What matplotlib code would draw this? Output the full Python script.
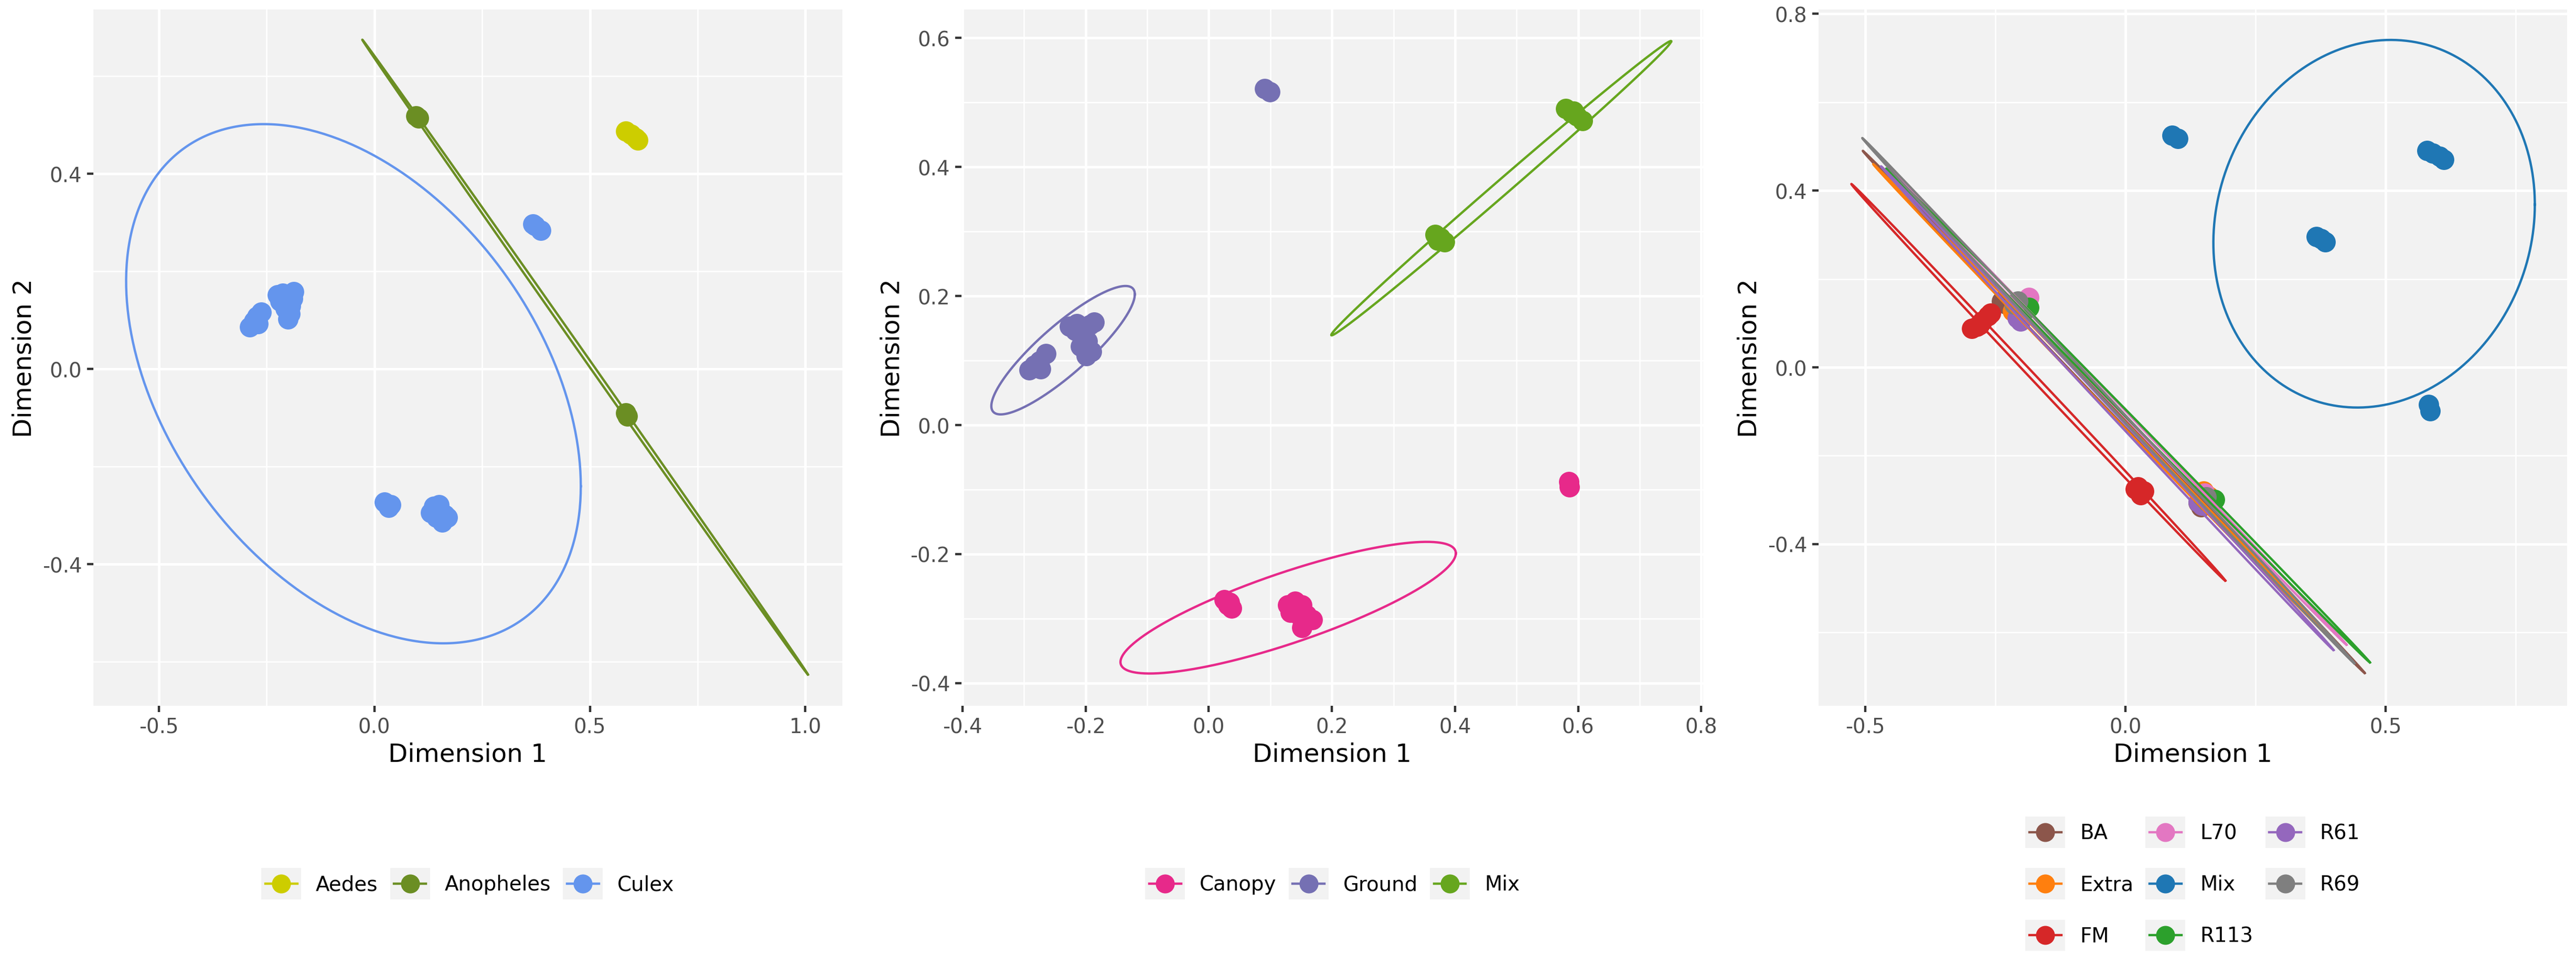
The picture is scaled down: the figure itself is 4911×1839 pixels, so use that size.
"""
Three MDS panels (genus / habitat / site) with 95% ellipses, ggplot-grey look.
"""

import numpy as np
import matplotlib
matplotlib.use("Agg")
import matplotlib.pyplot as plt
from matplotlib.lines import Line2D
from matplotlib.patches import Rectangle
from matplotlib.legend_handler import HandlerBase
from matplotlib.ticker import MultipleLocator, FuncFormatter

# ── 1. Data ───────────────────────────────────────────────────────────────
# Panel 1: genus
GENUS = ["Aedes", "Anopheles", "Culex"]
GENUS_COLORS = ["#CDCD00", "#6B8E23", "#6495ED"]
aedes_x = [0.583, 0.596, 0.606, 0.611]
aedes_y = [0.488, 0.481, 0.474, 0.469]
anoph_x = [0.096, 0.102, 0.583, 0.587]
anoph_y = [0.519, 0.514, -0.090, -0.096]
culex_x = [-0.289, -0.280, -0.272, -0.262, -0.270,
           -0.225, -0.213, -0.200, -0.187, -0.219, -0.206, -0.194, -0.196,
           -0.200, -0.206, -0.190,
           0.373, 0.386, 0.368,
           0.023, 0.033, 0.038,
           0.138, 0.150, 0.163, 0.157, 0.144, 0.169, 0.150, 0.131]
culex_y = [0.086, 0.098, 0.108, 0.116, 0.093,
           0.152, 0.155, 0.150, 0.158, 0.139, 0.134, 0.129, 0.113,
           0.103, 0.124, 0.144,
           0.294, 0.284, 0.297,
           -0.273, -0.284, -0.278,
           -0.281, -0.289, -0.299, -0.314, -0.304, -0.304, -0.278, -0.294]
# ellipse: centre x, centre y, half-width x, half-height y, correlation
aedes_ell = None
anoph_ell = [0.489, 0.0245, 0.517, 0.6505, -0.99994]
culex_ell = [-0.0485, -0.030, 0.5275, 0.532, -0.395]

# Panel 2: habitat
HABITAT = ["Canopy", "Ground", "Mix"]
HABITAT_COLORS = ["#E7298A", "#7570B3", "#66A61E"]
canopy_x = [0.585, 0.586,
            0.025, 0.031, 0.037, 0.034,
            0.128, 0.140, 0.151, 0.146, 0.155, 0.159, 0.168, 0.151, 0.142, 0.133]
canopy_y = [-0.088, -0.096,
            -0.271, -0.279, -0.284, -0.275,
            -0.279, -0.273, -0.279, -0.294, -0.306, -0.294, -0.302, -0.314, -0.286, -0.290]
ground_x = [0.091, 0.099,
            -0.292, -0.283, -0.275, -0.264, -0.273,
            -0.226, -0.214, -0.204, -0.193, -0.186, -0.206, -0.197, -0.195,
            -0.199, -0.190, -0.217, -0.208]
ground_y = [0.521, 0.516,
            0.085, 0.093, 0.099, 0.111, 0.087,
            0.153, 0.157, 0.149, 0.155, 0.159, 0.138, 0.130, 0.118,
            0.107, 0.114, 0.146, 0.122]
hmix_x = [0.580, 0.589, 0.598, 0.607, 0.593,
          0.368, 0.376, 0.383, 0.372]
hmix_y = [0.490, 0.484, 0.479, 0.472, 0.486,
          0.295, 0.290, 0.284, 0.286]
canopy_ell = [0.129, -0.283, 0.2723, 0.102, 0.826]
ground_ell = [-0.2365, 0.116, 0.1165, 0.0995, 0.87]
hmix_ell = [0.475, 0.367, 0.276, 0.228, 0.9978]

# Panel 3: site
SITE = ["BA", "Extra", "FM", "L70", "Mix", "R113", "R61", "R69"]
SITE_COLORS = ["#8C564B", "#FF7F0E", "#D62728", "#E377C2",
               "#1F77B4", "#2CA02C", "#9467BD", "#7F7F7F"]
ba_x = [-0.238, -0.231, 0.145, 0.140]
ba_y = [0.150, 0.144, -0.316, -0.306]
extra_x = [-0.217, -0.210, 0.150, 0.160]
extra_y = [0.127, 0.120, -0.280, -0.292]
fm_x = [-0.296, -0.285, -0.275, -0.264, -0.259, -0.280,
        0.024, 0.035, 0.029, 0.019]
fm_y = [0.088, 0.093, 0.105, 0.116, 0.122, 0.096,
        -0.271, -0.280, -0.288, -0.276]
l70_x = [-0.186, -0.192, 0.152, 0.160]
l70_y = [0.158, 0.148, -0.285, -0.296]
smix_x = [0.090, 0.101,
          0.580, 0.591, 0.604, 0.612,
          0.367, 0.376, 0.384,
          0.583, 0.586]
smix_y = [0.525, 0.518,
          0.491, 0.485, 0.477, 0.470,
          0.296, 0.291, 0.284,
          -0.084, -0.098]
r113_x = [-0.186, -0.195, 0.171, 0.165]
r113_y = [0.136, 0.128, -0.299, -0.305]
r61_x = [-0.202, -0.208, 0.140, 0.147]
r61_y = [0.105, 0.112, -0.305, -0.312]
r69_x = [-0.207, -0.214, 0.155, 0.150]
r69_y = [0.150, 0.142, -0.293, -0.300]
ba_ell = [-0.0225, -0.101, 0.4825, 0.591, -0.9999]
extra_ell = [-0.0425, -0.080, 0.4425, 0.540, -0.9999]
fm_ell = [-0.1675, -0.034, 0.3595, 0.449, -0.9998]
l70_ell = [-0.015, -0.088, 0.440, 0.540, -0.9999]
smix_ell = [0.478, 0.325, 0.309, 0.416, 0.104]
r113_ell = [0.005, -0.109, 0.465, 0.559, -0.9999]
r61_ell = [-0.035, -0.0925, 0.435, 0.5475, -0.9999]
r69_ell = [-0.033, -0.0755, 0.473, 0.5945, -0.9999]

# ── 2. Style ──────────────────────────────────────────────────────────────
PANEL_BG = "#F2F2F2"
KEY_BG   = "#F2F2F2"
TICK_COL = "#4D4D4D"
DPI      = 100
TICK_FS  = 27.9
TITLE_FS = 34.8
PT_MS    = 28
KEY_MS   = 26
ELL_LW   = 3.2

plt.rcParams["font.family"] = ["DejaVu Sans"]


def ellipse_xy(p, n=400):
    cx, cy, sx, sy, rho = p
    t = np.linspace(0, 2 * np.pi, n)
    x = cx + sx * np.cos(t)
    y = cy + sy * (rho * np.cos(t) - np.sqrt(1 - rho ** 2) * np.sin(t))
    return x, y


def fmt(v, _):
    return f"{round(v, 1) + 0.0:.1f}"


class KeyHandler(HandlerBase):
    """ggplot-like legend key: grey square, path line and a dot."""
    def create_artists(self, legend, orig_handle, xdescent, ydescent,
                       width, height, fontsize, trans):
        col = orig_handle.get_color()
        x0, y0 = -xdescent, -ydescent
        bg = Rectangle((x0, y0), width, height, facecolor=KEY_BG,
                       edgecolor="none", transform=trans)
        ln = Line2D([x0 + 0.1 * width, x0 + 0.9 * width],
                    [y0 + height / 2] * 2, color=col, lw=ELL_LW,
                    transform=trans)
        pt = Line2D([x0 + width / 2], [y0 + height / 2], marker="o",
                    ms=KEY_MS, color=col, mec="none", ls="none",
                    transform=trans)
        return [bg, ln, pt]


def style_axes(ax, xlim, ylim, xmaj, ymaj):
    ax.set_facecolor(PANEL_BG)
    for s in ax.spines.values():
        s.set_visible(False)
    ax.set_xlim(*xlim)
    ax.set_ylim(*ylim)
    ax.xaxis.set_major_locator(MultipleLocator(xmaj))
    ax.xaxis.set_minor_locator(MultipleLocator(xmaj / 2))
    ax.yaxis.set_major_locator(MultipleLocator(ymaj))
    ax.yaxis.set_minor_locator(MultipleLocator(ymaj / 2))
    ax.xaxis.set_major_formatter(FuncFormatter(fmt))
    ax.yaxis.set_major_formatter(FuncFormatter(fmt))
    ax.grid(which="major", color="white", lw=3.4)
    ax.grid(which="minor", color="white", lw=1.9)
    ax.set_axisbelow(True)
    ax.tick_params(which="major", length=8.7, width=3.2, color="#333333",
                   labelsize=TICK_FS, labelcolor=TICK_COL, pad=7)
    ax.tick_params(which="minor", length=0)
    ax.set_xlabel("Dimension 1", fontsize=TITLE_FS, labelpad=6)
    ax.set_ylabel("Dimension 2", fontsize=TITLE_FS, labelpad=8)


def draw_panel(ax, groups, colors, xs, ys, ells):
    for c, x, y in zip(colors, xs, ys):
        ax.plot(x, y, "o", ms=PT_MS, color=c, mec="none", zorder=3)
    for c, e in zip(colors, ells):
        if e is None:
            continue
        ex, ey = ellipse_xy(e)
        ax.plot(ex, ey, color=c, lw=ELL_LW, zorder=4)


def add_legend(fig, groups, colors, xcenter, ncol):
    handles = [Line2D([], [], color=c) for c in colors]
    fig.legend(handles, groups, loc="center", bbox_to_anchor=(xcenter, 0.0842),
               ncol=ncol, frameon=False, fontsize=TICK_FS,
               handler_map={Line2D: KeyHandler()},
               handlelength=1.96, handleheight=1.99, handletextpad=0.72,
               columnspacing=0.6, labelspacing=1.0, borderpad=0)


# ── 3. Figure ─────────────────────────────────────────────────────────────
W, H = 4911, 1840
fig = plt.figure(figsize=(W / DPI, H / DPI), dpi=DPI)

bottom = (H - 1346) / H
height = 1327 / H
ax1 = fig.add_axes([178 / W, bottom, 1428 / W, height])
ax2 = fig.add_axes([1833 / W, bottom, 1414 / W, height])
ax3 = fig.add_axes([3467 / W, bottom, 1427 / W, height])

draw_panel(ax1, GENUS, GENUS_COLORS,
           [aedes_x, anoph_x, culex_x], [aedes_y, anoph_y, culex_y],
           [aedes_ell, anoph_ell, culex_ell])
style_axes(ax1, (-0.652, 1.086), (-0.690, 0.737), 0.5, 0.4)

draw_panel(ax2, HABITAT, HABITAT_COLORS,
           [canopy_x, ground_x, hmix_x], [canopy_y, ground_y, hmix_y],
           [canopy_ell, ground_ell, hmix_ell])
style_axes(ax2, (-0.4015, 0.803), (-0.435, 0.644), 0.2, 0.2)

draw_panel(ax3, SITE, SITE_COLORS,
           [ba_x, extra_x, fm_x, l70_x, smix_x, r113_x, r61_x, r69_x],
           [ba_y, extra_y, fm_y, l70_y, smix_y, r113_y, r61_y, r69_y],
           [ba_ell, extra_ell, fm_ell, l70_ell, smix_ell, r113_ell, r61_ell, r69_ell])
style_axes(ax3, (-0.590, 0.849), (-0.766, 0.810), 0.5, 0.4)

add_legend(fig, GENUS, GENUS_COLORS, (178 + 714) / W, 3)
add_legend(fig, HABITAT, HABITAT_COLORS, (1833 + 707) / W, 3)
add_legend(fig, SITE, SITE_COLORS, (3467 + 713) / W, 3)

fig.savefig("out.png", dpi=DPI)
